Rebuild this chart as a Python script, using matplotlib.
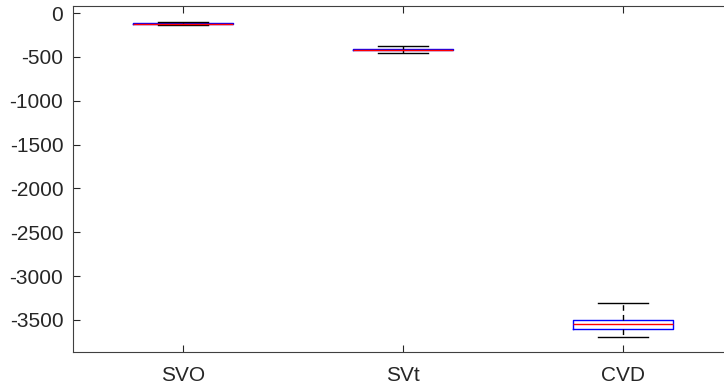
import matplotlib
matplotlib.use("Agg")
import matplotlib.pyplot as plt

plt.rcParams['font.family'] = ['Liberation Sans', 'DejaVu Sans']
plt.rcParams['axes.unicode_minus'] = False

labels = ['SVO', 'SVt', 'CVD']
medians = [-122, -418, -3542]
q1 = [-128, -425, -3602]
q3 = [-115, -410, -3500]
whislo = [-140, -460, -3697]
whishi = [-100, -373, -3302]

stats = []
for i, lab in enumerate(labels):
    stats.append(dict(label=lab, med=medians[i], q1=q1[i], q3=q3[i],
                      whislo=whislo[i], whishi=whishi[i], fliers=[]))

fig = plt.figure(figsize=(7.24, 3.89), dpi=100)
# right edge of the axes lies past the image, as in the reference
ax = fig.add_axes([73/724, 1 - 352/389, 660/724, 346/389])

ax.bxp(stats, positions=[1, 2, 3], widths=0.455, showfliers=False,
       boxprops=dict(color='blue', linewidth=1.0),
       medianprops=dict(color='red', linewidth=1.0),
       whiskerprops=dict(color='black', linestyle=(0, (4, 3)), linewidth=1),
       capprops=dict(color='black', linewidth=1.0),
       capwidths=0.227)

ax.set_xlim(0.5, 3.5)
ax.set_ylim(-3865, 80)
ax.set_yticks([0, -500, -1000, -1500, -2000, -2500, -3000, -3500])
ax.set_xticks([1, 2, 3])
ax.set_xticklabels(labels)
ax.tick_params(direction='in', length=5, width=0.8, labelsize=15,
               colors='#262626', top=True, right=True)
ax.tick_params(axis='y', pad=7)
ax.tick_params(axis='x', pad=10)
for s in ax.spines.values():
    s.set_color('#404040')
    s.set_linewidth(0.8)

fig.savefig('out.png', dpi=100)
